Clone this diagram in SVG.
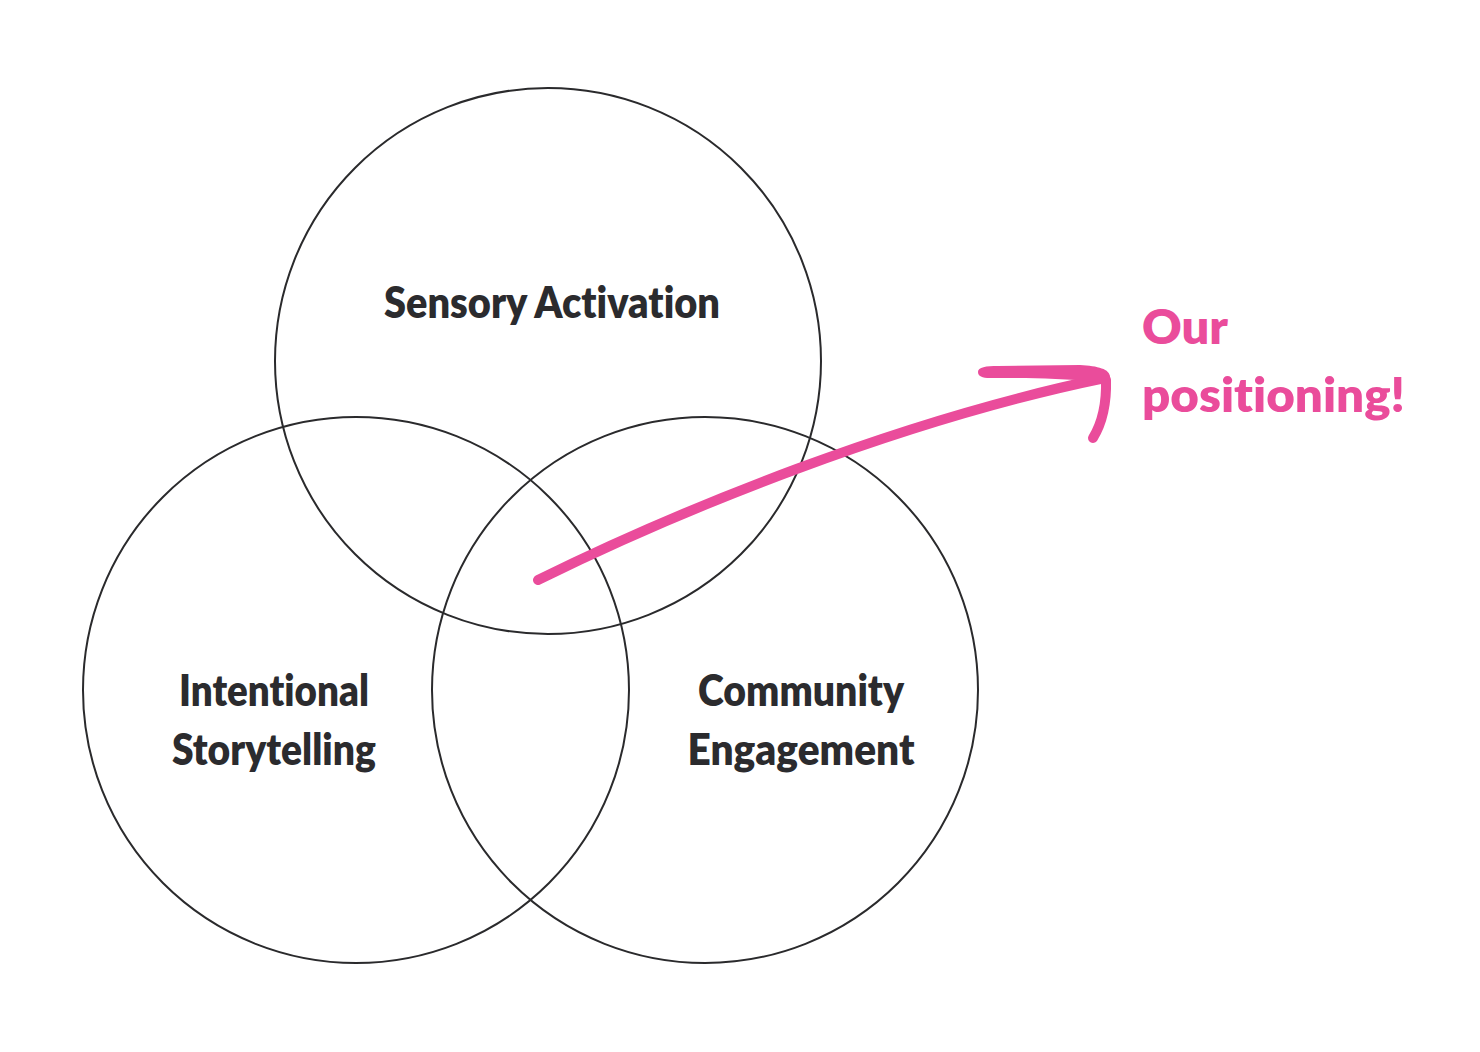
<svg xmlns="http://www.w3.org/2000/svg" width="1480" height="1052" viewBox="0 0 1480 1052">
<style>
.c{fill:none;stroke:#2a2a2c;stroke-width:2}
.t{font-family:Lato,"Liberation Sans",sans-serif;font-weight:800;font-size:43px;fill:#2b2b2e;text-anchor:middle;font-variant-ligatures:none}
.p{font-family:Lato,"Liberation Sans",sans-serif;font-weight:800;font-size:47px;fill:#ea4c9b;font-variant-ligatures:none}
.a{fill:none;stroke:#ea4c9b;stroke-linecap:round;stroke-linejoin:round}
.h{fill:#ea4c9b}
</style>
<rect width="1480" height="1052" fill="#ffffff"/>
<g id="sensory">
<circle class="c" cx="548" cy="361" r="273"/>
<text class="t" x="552" y="318" textLength="336" lengthAdjust="spacingAndGlyphs">Sensory Activation</text>
</g>
<g id="storytelling">
<circle class="c" cx="356" cy="690" r="273"/>
<text class="t" x="274" y="706" textLength="190" lengthAdjust="spacingAndGlyphs">Intentional</text>
<text class="t" x="274" y="765" textLength="204" lengthAdjust="spacingAndGlyphs">Storytelling</text>
</g>
<g id="community">
<circle class="c" cx="705" cy="690" r="273"/>
<text class="t" x="801" y="706" textLength="206" lengthAdjust="spacingAndGlyphs">Community</text>
<text class="t" x="801" y="765" textLength="227" lengthAdjust="spacingAndGlyphs">Engagement</text>
</g>
<g id="positioning">
<text class="p" x="1142" y="344" textLength="86" lengthAdjust="spacingAndGlyphs">Our</text>
<text class="p" x="1142" y="412" textLength="263" lengthAdjust="spacingAndGlyphs">positioning!</text>
</g>
<g id="connectors">
<path class="a" stroke-width="10" d="M538,580 C680,510 900,420 1105,378"/>
<path class="h" d="M978,372 C978,367 986,366 998,366 L1080,365 C1098,366 1110,369 1110,377 C1110,383 1102,383 1096,382 C1060,378 1020,378 990,378 C982,378 978,376 978,372 Z"/>
<path class="a" stroke-width="10" d="M1106,380 Q1107,415 1093,438"/>
</g>
</svg>
